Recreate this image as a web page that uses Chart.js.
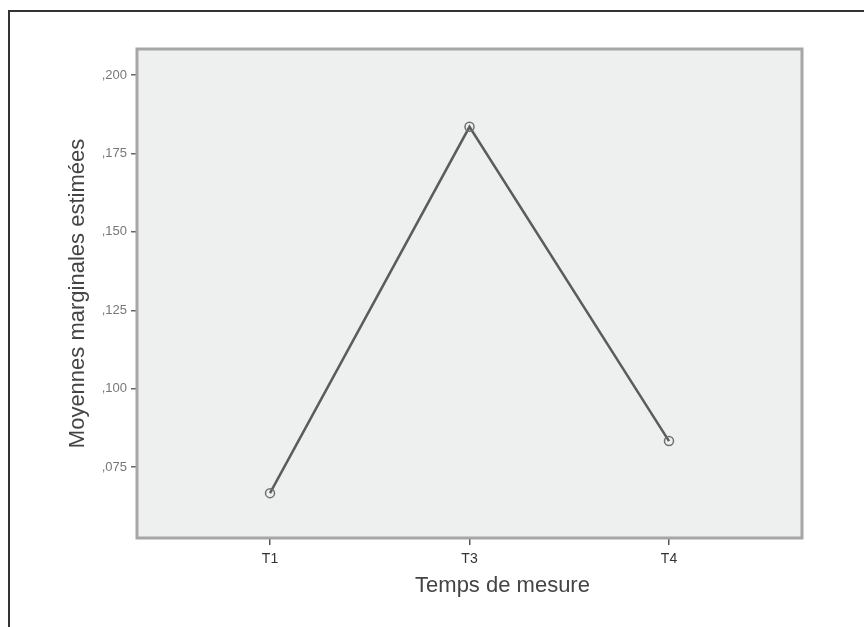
<!DOCTYPE html>
<html>
<head>
<meta charset="utf-8">
<script src="https://cdn.jsdelivr.net/npm/chart.js@4/dist/chart.umd.min.js"></script>
<style>
  html, body { margin: 0; padding: 0; background: #fff; }
  #wrap { width: 864px; height: 627px; }
</style>
</head>
<body>
<div id="wrap"><canvas id="chart" width="864" height="627"></canvas></div>
<script>
// data
const categories = ['T1', 'T3', 'T4'];
const positions = [1, 2, 3];
const means = [0.0667, 0.1835, 0.0833];
const yTicks = [0.075, 0.100, 0.125, 0.150, 0.175, 0.200];
const yRange = [0.0524, 0.2083];
const xTitle = 'Temps de mesure';

const points = positions.map((x, i) => ({ x: x, y: means[i] }));

// outer frame, grey plot panel, x title (sits right of centre in the original)
const panelPlugin = {
  id: 'panel',
  beforeDraw(chart) {
    const ctx = chart.ctx;
    const a = chart.chartArea;
    ctx.save();
    ctx.fillStyle = '#fff';
    ctx.fillRect(0, 0, chart.width, chart.height);
    ctx.strokeStyle = '#333';
    ctx.lineWidth = 2;
    ctx.beginPath();
    ctx.moveTo(9, chart.height);
    ctx.lineTo(9, 11);
    ctx.lineTo(chart.width, 11);
    ctx.stroke();
    ctx.fillStyle = '#eef0f0';
    ctx.fillRect(a.left, a.top, a.right - a.left, a.bottom - a.top);
    ctx.restore();
  },
  afterDatasetsDraw(chart) {
    const ctx = chart.ctx;
    const a = chart.chartArea;
    ctx.save();
    ctx.strokeStyle = '#a6a6a6';
    ctx.lineWidth = 3;
    ctx.strokeRect(a.left, a.top, a.right - a.left, a.bottom - a.top);
    ctx.restore();
  },
  afterDraw(chart) {
    const ctx = chart.ctx;
    const a = chart.chartArea;
    ctx.save();
    ctx.fillStyle = '#444';
    ctx.font = '22px "Liberation Sans"';
    ctx.textAlign = 'center';
    ctx.textBaseline = 'middle';
    ctx.fillText(xTitle, (a.left + a.right) / 2 + 33, a.bottom + 48);
    ctx.restore();
  }
};

new Chart(document.getElementById('chart'), {
  type: 'line',
  data: {
    datasets: [{
      data: points,
      borderColor: '#5c5c5c',
      borderWidth: 2.5,
      pointRadius: 4.5,
      pointBorderWidth: 1.5,
      pointBorderColor: '#707070',
      pointBackgroundColor: 'rgba(0,0,0,0)',
      tension: 0
    }]
  },
  options: {
    responsive: false,
    animation: false,
    layout: { padding: { left: 0, top: 49, right: 62, bottom: 0 } },
    plugins: { legend: { display: false }, tooltip: { enabled: false } },
    scales: {
      x: {
        type: 'linear',
        min: 1 / 3,
        max: 11 / 3,
        afterBuildTicks: (s) => { s.ticks = positions.map(v => ({ value: v })); },
        afterFit: (s) => { s.height = 89; },
        border: { display: false },
        grid: {
          drawOnChartArea: false,
          tickLength: 7,
          color: '#555',
          lineWidth: 1.5
        },
        ticks: {
          padding: 6,
          color: '#333',
          font: { family: 'Liberation Sans', size: 14 },
          callback: (v) => categories[positions.indexOf(v)]
        }
      },
      y: {
        min: yRange[0],
        max: yRange[1],
        afterBuildTicks: (s) => { s.ticks = yTicks.map(v => ({ value: v })); },
        afterFit: (s) => { s.width = 137; },
        border: { display: false },
        grid: {
          drawOnChartArea: false,
          tickLength: 6,
          color: '#666',
          lineWidth: 1.5
        },
        ticks: {
          padding: 4,
          color: '#777',
          font: { family: 'Liberation Sans', size: 13 },
          callback: (v) => ',' + v.toFixed(3).split('.')[1]
        },
        title: {
          display: true,
          text: 'Moyennes marginales estimées',
          color: '#444',
          font: { family: 'Liberation Sans', size: 22 },
          padding: { top: 65, bottom: 0 }
        }
      }
    }
  },
  plugins: [panelPlugin]
});
</script>
</body>
</html>
